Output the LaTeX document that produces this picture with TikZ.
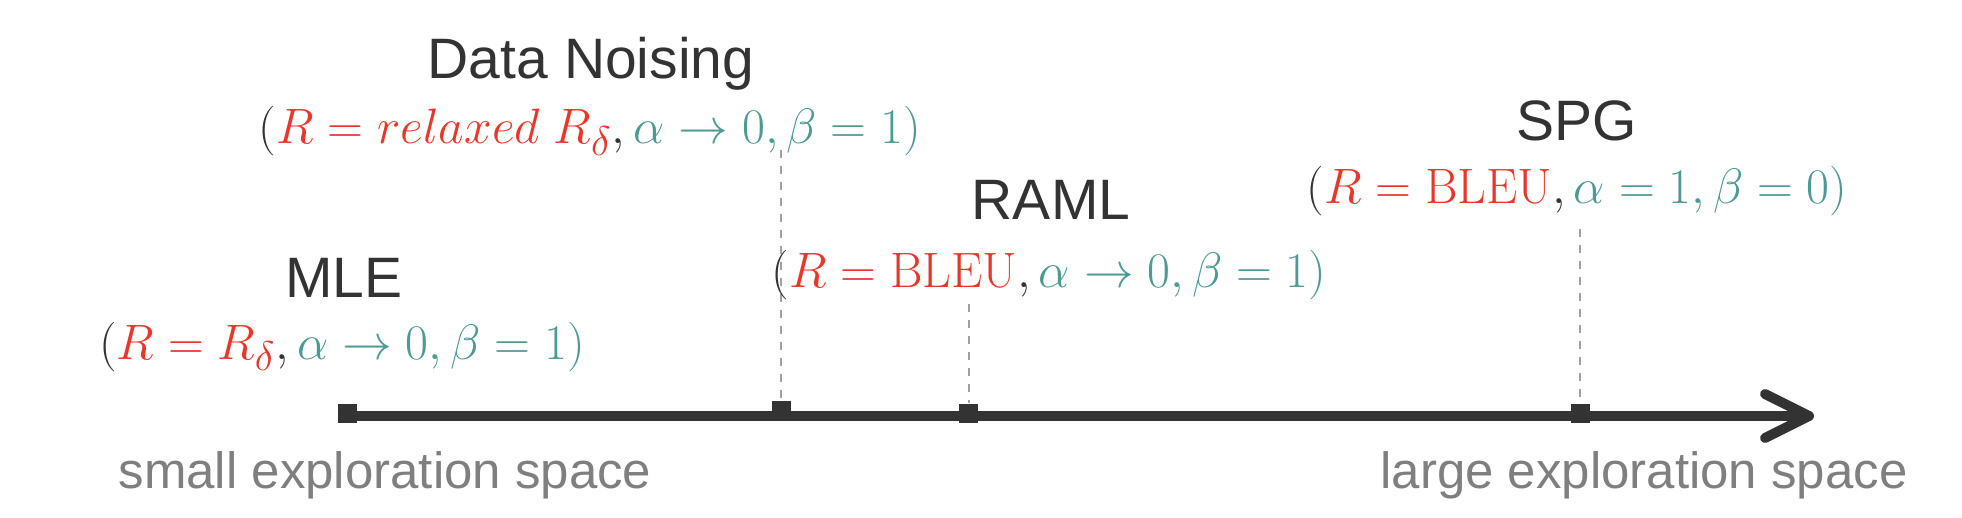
\documentclass[tikz,border=0pt]{standalone}
\usepackage[no-math]{fontspec}
\setmainfont{Liberation Sans}
\usetikzlibrary{arrows.meta}
\definecolor{dk}{HTML}{333333}
\definecolor{rd}{HTML}{E8372A}
\definecolor{tl}{HTML}{4C9A93}
\definecolor{gt}{HTML}{7F7F7F}
\definecolor{dg}{HTML}{A0A0A0}
\tikzset{
  lbl/.style={font=\fontsize{28.5}{34}\selectfont, text=dk, anchor=base, inner sep=0pt},
  frm/.style={font=\fontsize{27.2}{32}\selectfont, anchor=base, inner sep=0pt},
  side/.style={font=\fontsize{25.5}{30}\selectfont, text=gt, anchor=base, inner sep=0pt},
  mk/.style={fill=dk, minimum size=9.5pt, inner sep=0pt, draw=none},
  guide/.style={draw=dg, line width=1pt, dash pattern=on 4pt off 4pt},
  axisline/.style={draw=dk, line width=5pt, -{Straight Barb[length=22pt,width=22pt,round]}}
}
\begin{document}
\begin{tikzpicture}[x=0.5pt,y=-0.5pt]
\useasboundingbox (0,0) rectangle (1962,518);
% axis
\node[mk] (mle) at (347.5,413) {};
\coordinate (start) at (357,416);
\coordinate (tip) at (1814,416);
\draw[axisline] (start) -- (tip);
\node[mk] (dn) at (781,410) {};
\node[mk] (raml) at (968.5,413) {};
\node[mk] (spg) at (1580,413) {};
% guides
\coordinate (dntop) at (781,150);
\coordinate (ramltop) at (968.5,304);
\coordinate (spgtop) at (1580,229);
\draw[guide] (dntop) -- (dn.north);
\draw[guide] (ramltop) -- (raml.north);
\draw[guide] (spgtop) -- (spg.north);
% labels
\node[lbl] (mlel) at (344,297) {MLE};
\node[frm] (mlef) at (342,359) {$\color{dk}(\color{rd}R = R_\delta\color{dk},\color{tl}\alpha \to 0, \beta = 1)$};
\node[lbl] (dnl) at (591,79) {Data Noising};
\node[frm] (dnf) at (590,144) {$\color{dk}(\color{rd}R = relaxed\;R_\delta\color{dk},\color{tl}\alpha \to 0, \beta = 1)$};
\node[lbl] (ramll) at (1051,220) {RAML};
\node[frm] (ramlf) at (1049,287) {$\color{dk}(\color{rd}R = \mathrm{BLEU}\color{dk},\color{tl}\alpha \to 0, \beta = 1)$};
\node[lbl] (spgl) at (1577,141) {SPG};
\node[frm] (spgf) at (1577,204) {$\color{dk}(\color{rd}R = \mathrm{BLEU}\color{dk},\color{tl}\alpha = 1, \beta = 0)$};
\node[side] (small) at (385,488) {small exploration space};
\node[side] (large) at (1644,488) {large exploration space};
\end{tikzpicture}
\end{document}
